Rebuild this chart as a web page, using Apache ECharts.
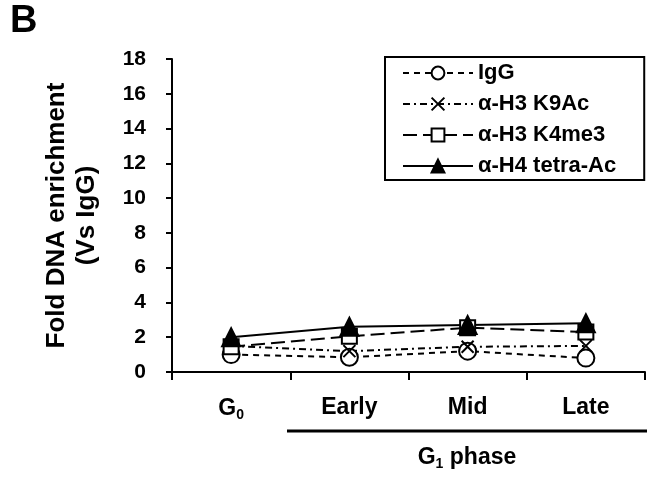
<!DOCTYPE html>
<html>
<head>
<meta charset="utf-8">
<script src="https://cdn.jsdelivr.net/npm/echarts@6/dist/echarts.min.js"></script>
<style>
html,body{margin:0;padding:0;background:#fff;}
#draw_1{width:652px;height:479px;}
</style>
</head>
<body>
<div id="draw_1"></div>
<script>
var phases = ['G0', 'Early', 'Mid', 'Late'];
var igg = [1.0, 0.85, 1.2, 0.8];
var h3k9ac = [1.5, 1.2, 1.45, 1.5];
var h3k4me3 = [1.45, 2.05, 2.55, 2.3];
var h4ac = [2.0, 2.6, 2.7, 2.8];
var yTicks = [0, 2, 4, 6, 8, 10, 12, 14, 16, 18];

var font = 'Liberation Sans, Arial, sans-serif';
var myChart_1 = echarts.init(document.getElementById('draw_1'));

function mkSeries(name, data, symbol, size, fill, dash){
	return {
		name: name, type: 'line', data: data,
		symbol: symbol, symbolSize: size, showSymbol: true,
		lineStyle: {color: '#000', width: 2, type: dash},
		itemStyle: {color: fill, borderColor: '#000', borderWidth: 2},
		emphasis: {disabled: true}, z: 3
	};
}

function draw_1(){
	var option = {
		animation: false,
		grid: {left: 172, right: 7, top: 59, bottom: 107},
		legend: {
			orient: 'vertical', left: 385, top: 57,
			padding: [5, 28, 3, 17], itemGap: 9,
			itemWidth: 70, itemHeight: 16,
			borderColor: '#000', borderWidth: 2,
			textStyle: {fontFamily: font, fontWeight: 'bold', fontSize: 22, color: '#000'},
			data: ['IgG', 'α-H3 K9Ac', 'α-H3 K4me3', 'α-H4 tetra-Ac']
		},
		xAxis: {
			type: 'category', data: phases, boundaryGap: true,
			axisLine: {lineStyle: {color: '#000', width: 2}},
			axisTick: {show: true, interval: 0, length: 8, lineStyle: {color: '#000', width: 2}},
			axisLabel: {
				interval: 0, margin: 24, color: '#000', fontFamily: font, fontWeight: 'bold', fontSize: 23,
				formatter: function(v){ return v === 'G0' ? '{b|G}{s|0}' : v; },
				rich: {
					b: {fontFamily: font, fontWeight: 'bold', fontSize: 23, color: '#000'},
					s: {fontFamily: font, fontWeight: 'bold', fontSize: 14, color: '#000', padding: [12, 0, 0, 0]}
				}
			}
		},
		yAxis: {
			type: 'value', min: yTicks[0], max: yTicks[yTicks.length - 1], interval: 2,
			name: 'Fold DNA enrichment\n(Vs IgG)', nameLocation: 'middle', nameRotate: 90, nameGap: 70,
			nameTextStyle: {fontFamily: font, fontWeight: 'bold', fontSize: 26, color: '#000', lineHeight: 30},
			splitLine: {show: false},
			axisLine: {show: true, lineStyle: {color: '#000', width: 2}},
			axisTick: {show: true, length: 6, lineStyle: {color: '#000', width: 2}},
			axisLabel: {margin: 26, color: '#000', fontFamily: font, fontWeight: 'bold', fontSize: 21}
		},
		graphic: [
			{type: 'text', left: 10, top: 3, style: {text: 'B', font: 'bold 38px ' + font, fill: '#000'}},
			{type: 'line', shape: {x1: 287, y1: 431, x2: 647, y2: 431}, style: {stroke: '#000', lineWidth: 3}},
			{type: 'text', x: 467, y: 458, style: {
				text: '{b|G}{s|1}{b| phase}', align: 'center', verticalAlign: 'middle',
				rich: {
					b: {fontFamily: font, fontWeight: 'bold', fontSize: 23, fill: '#000'},
					s: {fontFamily: font, fontWeight: 'bold', fontSize: 14, fill: '#000', padding: [12, 0, 0, 0]}
				}
			}}
		],
		series: [
			mkSeries('IgG', igg, 'circle', 17, '#fff', [6, 5]),
			mkSeries('α-H3 K9Ac', h3k9ac, 'path://M0,0L10,10M10,0L0,10', 12, 'none', [7, 4, 2, 4]),
			mkSeries('α-H3 K4me3', h3k4me3, 'rect', 15, '#fff', [14, 6]),
			mkSeries('α-H4 tetra-Ac', h4ac, 'triangle', 18, '#000', 'solid')
		]
	};
	myChart_1.setOption(option, true);
}
draw_1();
</script>
</body>
</html>
